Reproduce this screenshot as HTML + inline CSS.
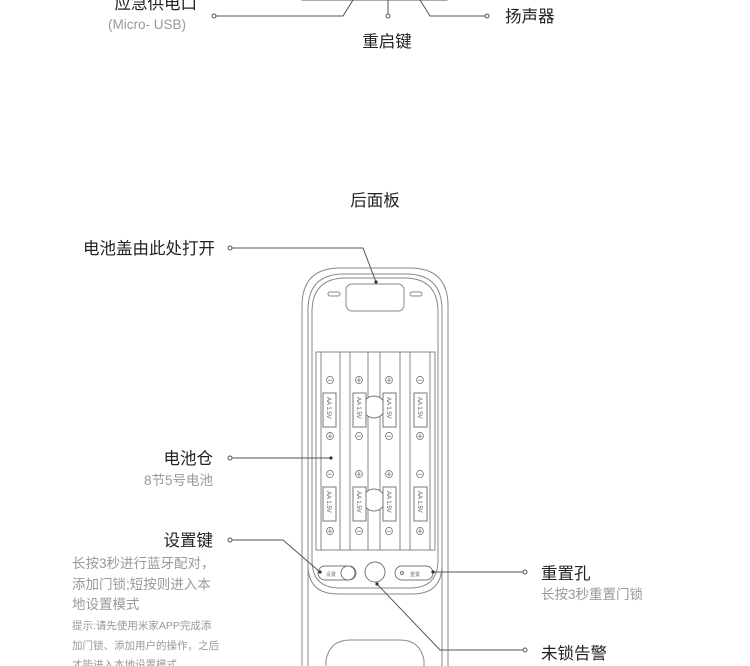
<!DOCTYPE html>
<html><head><meta charset="utf-8"><style>
html,body{margin:0;padding:0;background:#fff;width:750px;height:666px;overflow:hidden;}
svg{display:block;}
text{font-family:"Liberation Sans","Noto Sans CJK SC",sans-serif;}
.b{font-size:16.5px;fill:#222;}
.g{font-size:13.5px;fill:#999;}
.s{font-size:10.5px;fill:#999;}
</style></head><body>
<svg width="750" height="666" viewBox="0 0 750 666" xmlns="http://www.w3.org/2000/svg">
<g fill="none" stroke="#555" stroke-width="1">
<rect x="302" y="-20" width="145" height="20"/>
<polyline points="214,16 343,16 353,0"/>
<line x1="388" y1="0" x2="388" y2="15"/>
<polyline points="420,0 430,16 486,16"/>
</g>
<g fill="#fff" stroke="#555"><circle cx="214" cy="16" r="2"/><circle cx="388" cy="16" r="2"/><circle cx="487" cy="16" r="2"/></g>
<text class="b" x="197" y="9" text-anchor="end">应急供电口</text>
<text class="g" x="108" y="29">(Micro- USB)</text>
<text class="b" x="505" y="22">扬声器</text>
<text class="b" x="387" y="47" text-anchor="middle">重启键</text>
<text class="b" x="375" y="206" text-anchor="middle">后面板</text>

<g fill="none" stroke="#888" stroke-width="1">
<path d="M302,700 V306 Q302,268 340,268 H410 Q448,268 448,306 V700"/>
<path d="M308,700 V310 Q308,274 344,274 H406 Q442,274 442,310 V700"/>
<path d="M312,560 V312 Q312,278 346,278 H404 Q438,278 438,312 V560 Q438,588 410,588 H340 Q312,588 312,560 Z"/>
<path d="M308,565 Q308,594 338,594 H412 Q442,594 442,565"/>
<rect x="346" y="284" width="58" height="27" rx="6"/>
<rect x="328" y="292" width="12" height="4" rx="2"/>
<rect x="410" y="292" width="12" height="4" rx="2"/>
<rect x="316" y="352" width="119" height="198"/>
<line x1="321" y1="352" x2="321" y2="550"/><line x1="340" y1="352" x2="340" y2="550"/>
<line x1="350" y1="352" x2="350" y2="550"/><line x1="368" y1="352" x2="368" y2="550"/>
<line x1="380" y1="352" x2="380" y2="550"/><line x1="400" y1="352" x2="400" y2="550"/>
<line x1="410" y1="352" x2="410" y2="550"/><line x1="430" y1="352" x2="430" y2="550"/>
<path d="M326,666 V660 Q330,640 350,640 H400 Q420,640 424,660 V666"/>
</g>
<g fill="#fff" stroke="#777" stroke-width="1">
<circle cx="374" cy="407" r="11"/><circle cx="374" cy="500" r="11"/>
<rect x="323" y="393" width="13" height="34"/><rect x="323" y="487" width="13" height="34"/>
<rect x="353" y="393" width="13" height="34"/><rect x="353" y="487" width="13" height="34"/>
<rect x="383" y="393" width="13" height="34"/><rect x="383" y="487" width="13" height="34"/>
<rect x="414" y="393" width="13" height="34"/><rect x="414" y="487" width="13" height="34"/>
</g>
<g font-size="6" fill="#555" font-family="Liberation Sans">
<text transform="translate(327,397) rotate(90)">AA 1.5V</text>
<text transform="translate(357,397) rotate(90)">AA 1.5V</text>
<text transform="translate(387,397) rotate(90)">AA 1.5V</text>
<text transform="translate(418,397) rotate(90)">AA 1.5V</text>
<text transform="translate(327,491) rotate(90)">AA 1.5V</text>
<text transform="translate(357,491) rotate(90)">AA 1.5V</text>
<text transform="translate(387,491) rotate(90)">AA 1.5V</text>
<text transform="translate(418,491) rotate(90)">AA 1.5V</text>
</g>
<g font-size="10" fill="#666" text-anchor="middle" font-family="DejaVu Sans">
<text x="330" y="384">⊖</text><text x="359" y="384">⊕</text><text x="389" y="384">⊕</text><text x="420" y="384">⊖</text>
<text x="330" y="440">⊕</text><text x="359" y="440">⊖</text><text x="389" y="440">⊖</text><text x="420" y="440">⊕</text>
<text x="330" y="478">⊖</text><text x="359" y="478">⊕</text><text x="389" y="478">⊕</text><text x="420" y="478">⊖</text>
<text x="330" y="535">⊕</text><text x="359" y="535">⊖</text><text x="389" y="535">⊖</text><text x="420" y="535">⊕</text>
</g>
<g fill="none" stroke="#777">
<rect x="318" y="566" width="38" height="14" rx="7"/><circle cx="348" cy="573" r="7"/>
<circle cx="375" cy="572" r="10"/>
<rect x="395" y="566" width="38" height="14" rx="7"/><circle cx="402" cy="573" r="1.5"/>
</g>
<text x="326" y="576" font-size="5" fill="#777">设置</text>
<text x="410" y="576" font-size="5" fill="#777">重置</text>

<g fill="none" stroke="#555" stroke-width="1">
<polyline points="230,248 363,248 376,282"/>
<line x1="230" y1="458" x2="331" y2="458"/>
<polyline points="230,540 283,540 320,572"/>
<line x1="433" y1="572" x2="525" y2="572"/>
<polyline points="377,584 440,650 525,650"/>
</g>
<g fill="#333"><circle cx="376" cy="282" r="1.6"/><circle cx="331" cy="458" r="1.6"/><circle cx="320" cy="572" r="1.6"/><circle cx="433" cy="572" r="1.6"/><circle cx="377" cy="584" r="1.6"/></g>
<g fill="#fff" stroke="#555"><circle cx="230" cy="248" r="2"/><circle cx="230" cy="458" r="2"/><circle cx="230" cy="540" r="2"/><circle cx="525" cy="572" r="2"/><circle cx="525" cy="650" r="2"/></g>

<text class="b" x="215" y="254" text-anchor="end">电池盖由此处打开</text>
<text class="b" x="213" y="464" text-anchor="end">电池仓</text>
<text class="g" x="213" y="485" text-anchor="end">8节5号电池</text>
<text class="b" x="213" y="546" text-anchor="end">设置键</text>
<text class="g" x="72" y="568">长按3秒进行蓝牙配对，</text>
<text class="g" x="72" y="589">添加门锁;短按则进入本</text>
<text class="g" x="72" y="609">地设置模式</text>
<text class="s" x="72" y="629">提示:请先使用米家APP完成添</text>
<text class="s" x="72" y="649">加门锁、添加用户的操作，之后</text>
<text class="s" x="72" y="668">才能进入本地设置模式</text>
<text class="b" x="541" y="579">重置孔</text>
<text class="g" x="541" y="599">长按3秒重置门锁</text>
<text class="b" x="541" y="659">未锁告警</text>
</svg>
</body></html>
